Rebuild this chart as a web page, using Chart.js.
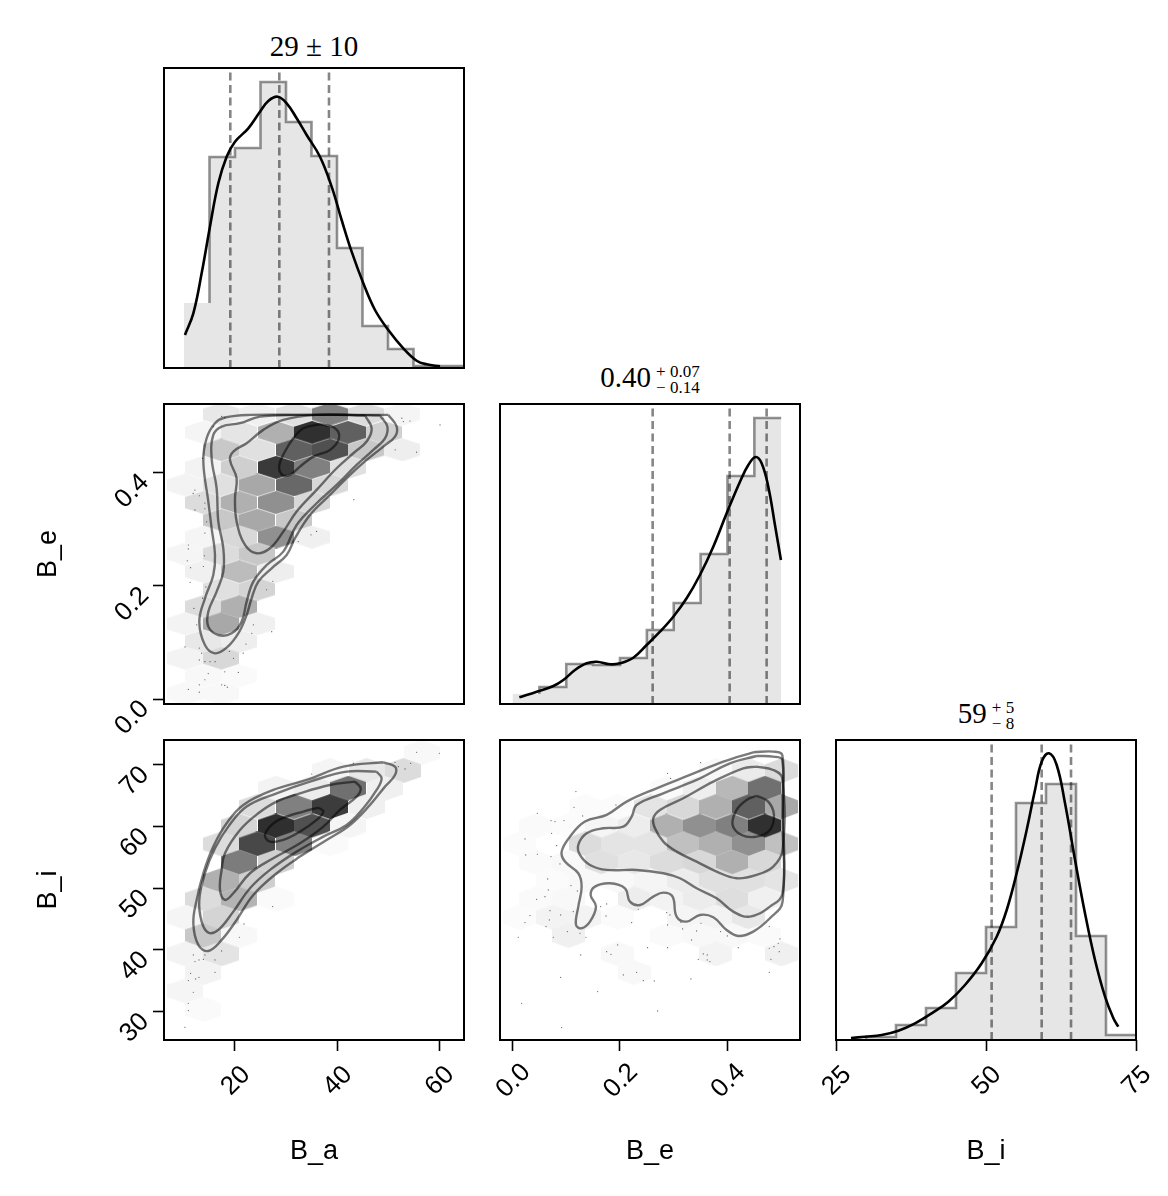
<!DOCTYPE html>
<html>
<head>
<meta charset="utf-8">
<title>Corner plot</title>
<script src="https://cdn.jsdelivr.net/npm/chart.js@4/dist/chart.umd.min.js"></script>
<style>
  html, body { margin: 0; background: #fff; }
  #page { position: relative; width: 1168px; height: 1196px; overflow: hidden; }
  canvas { position: absolute; }
  .ttl { position: absolute; transform: translateX(-50%); font-family: "Liberation Serif", serif; font-size: 29px; line-height: 32px; white-space: nowrap; color: #000; }
  .ss { display: inline-block; vertical-align: -6px; font-size: 17px; line-height: 16px; margin-left: 5px; text-align: left; }
  .ss span { display: block; }
</style>
</head>
<body>
<div id="page"></div>
<script>
// axis ranges and ticks
const rangeA = [6.08, 64.9];
const rangeE = [-0.0233, 0.535];
const rangeEy = [-0.0088, 0.521];
const rangeI = [25.4, 74.05];
const rangeIx = [25, 75];
const ticksA = [20, 40, 60];
const ticksE = [0.0, 0.2, 0.4];
const ticksI = [30, 40, 50, 60, 70];
const ticksIx = [25, 50, 75];

// 1d histograms
const edgesA = [10, 15, 20, 25, 30, 35, 40, 45, 50, 55, 60, 65];
const countsA = [65, 211, 220, 286, 246, 212, 120, 42, 19, 2, 2];
const edgesE = [0, 0.05, 0.1, 0.15, 0.2, 0.25, 0.3, 0.35, 0.4, 0.45, 0.5];
const countsE = [10, 17, 40, 39, 46, 74, 101, 150, 228, 286];
const edgesI = [25, 30, 35, 40, 45, 50, 55, 60, 65, 70, 75];
const countsI = [1, 3, 15, 32, 67, 113, 237, 256, 104, 5];

const quantA = [19.08, 28.69, 38.43];
const quantE = [0.2608, 0.4041, 0.4729];
const quantI = [50.94, 59.28, 64.17];

const kdeA = [[10.19,33],[11.83,54.7],[13.46,94.7],[15.09,141.3],[16.73,184.7],[18.36,211.3],[20,226.3],[22.61,239.7],[24.9,256.3],[26.53,267],[28.36,271.3],[30.13,264.7],[32.09,249.7],[34.05,233],[36.66,211.3],[38.95,181.3],[40.91,148],[42.87,116.3],[45.16,84.7],[47.45,58],[50.06,38],[53,19.7],[55.62,7.3],[57.58,3.7],[60.2,1.7]];
const kdeE = [[0.0127,6.7],[0.045,12.3],[0.076,18],[0.0946,24],[0.1163,34],[0.138,40.7],[0.1566,42.3],[0.1814,39.7],[0.2,40.7],[0.2248,46.3],[0.2496,59],[0.2744,72.3],[0.2992,87.3],[0.324,105.7],[0.3488,129],[0.3736,157.3],[0.3985,190.7],[0.4233,222.3],[0.4388,239],[0.4524,247],[0.4636,240.7],[0.476,217.3],[0.4884,179],[0.4995,144]];
const kdeI = [[27.5,2],[29.83,3.3],[32.61,5],[35.39,9.3],[38.17,16.7],[40.95,26.7],[43.73,38.3],[46.5,55],[49.28,76.7],[51.78,103.3],[53.45,130],[55.11,166.7],[56.78,210],[58.17,250],[59.28,278.3],[60.5,286.7],[61.78,275],[63.17,236.7],[64.84,180],[66.5,126.7],[68.17,80],[69.84,43.3],[71.23,21.7],[72.06,13.3]];

// hexbin cells: x, y, darkness (0 white .. 255 black)
const hexAE = [
  [17.32,.503,23],[24.38,.503,15],[31.57,.503,31],[38.62,.503,127],[45.68,.503,35],[52.8,.503,10],
  [13.79,.471,10],[20.85,.471,26],[28.04,.471,79],[35.1,.471,207],[42.15,.471,159],[49.21,.471,47],
  [17.32,.44,55],[24.38,.44,31],[31.57,.44,159],[38.62,.44,175],[45.68,.44,55],[52.8,.44,17],
  [13.79,.409,12],[20.85,.409,48],[28.04,.409,197],[35.1,.409,127],[42.15,.409,31],
  [10.26,.378,12],[17.32,.378,31],[24.38,.378,87],[31.57,.378,151],[38.62,.378,39],
  [13.79,.347,35],[20.85,.347,79],[28.04,.347,111],[35.1,.347,39],
  [17.32,.316,55],[24.38,.316,87],[31.57,.316,55],
  [13.79,.286,10],[20.85,.286,39],[28.04,.286,111],[35.1,.286,15],
  [10.26,.256,10],[17.32,.256,35],[24.38,.256,55],
  [13.79,.225,15],[20.85,.225,67],[28.04,.225,17],
  [17.32,.194,31],[24.38,.194,43],
  [13.79,.163,35],[20.85,.163,79],
  [10.26,.133,12],[17.32,.133,87],[24.38,.133,15],
  [13.79,.102,23],[20.85,.102,17],
  [10.26,.072,12],[17.32,.072,39],
  [13.79,.041,7],[20.85,.041,5],
  [10.26,.01,7],[17.32,.01,7]
];
const hexAI = [
  [56.6,72,7],
  [38.62,69.09,10],[45.8,69.09,23],[53,69.09,35],
  [28.04,66.22,12],[35.1,66.22,19],[42.22,66.22,143],[49.41,66.22,15],
  [24.38,63.25,35],[31.57,63.25,127],[38.62,63.25,195],[45.8,63.25,15],
  [20.85,60.11,43],[28.04,60.11,208],[35.1,60.11,175],[42.22,60.11,10],
  [17.32,57.2,35],[24.38,57.2,183],[31.57,57.2,127],[38.62,57.2,5],
  [20.85,54.22,131],[28.04,54.22,47],
  [17.32,51.25,79],[24.38,51.25,48],
  [13.79,48.27,35],[20.85,48.27,75],[28.04,48.27,5],
  [10.26,45.3,10],[17.32,45.3,43],
  [13.79,42.33,55],[20.85,42.33,7],
  [10.26,39.36,12],[17.32,39.36,27],
  [13.79,36.33,12],
  [10.26,33.35,10],
  [13.79,30.38,5]
];
const hexEI = [
  [.3786,69.09,7],[.4394,69.09,20],[.5008,69.09,35],
  [.2868,66.22,5],[.3488,66.22,17],[.409,66.22,71],[.4697,66.22,143],
  [.1349,63.25,4],[.1957,63.25,4],[.2571,63.25,27],[.3178,63.25,39],[.3786,63.25,79],[.4394,63.25,159],[.5008,63.25,87],
  [.0431,60.11,5],[.1039,60.11,4],[.1659,60.11,10],[.2267,60.11,18],[.2868,60.11,79],[.3488,60.11,111],[.409,60.11,127],[.4697,60.11,207],
  [.0127,57.2,4],[.1349,57.2,35],[.1957,57.2,27],[.2571,57.2,27],[.3178,57.2,63],[.3786,57.2,79],[.4394,57.2,111],[.5008,57.2,63],
  [.0431,54.22,5],[.1039,54.22,7],[.1659,54.22,31],[.2267,54.22,23],[.2868,54.22,35],[.3488,54.22,39],[.409,54.22,79],[.4697,54.22,39],
  [.0741,51.25,4],[.1349,51.25,7],[.1957,51.25,7],[.2571,51.25,10],[.3178,51.25,19],[.3786,51.25,31],[.4394,51.25,31],[.5008,51.25,27],
  [.0431,48.27,5],[.1039,48.27,7],[.2267,48.27,18],[.2868,48.27,12],[.3488,48.27,19],[.409,48.27,33],[.4697,48.27,15],
  [.0127,45.3,4],[.0741,45.3,12],[.1349,45.3,12],[.1957,45.3,4],[.3178,45.3,10],[.3786,45.3,12],[.4394,45.3,23],
  [.1039,42.33,15],[.2868,42.33,5],[.3488,42.33,7],[.409,42.33,7],[.4697,42.33,5],
  [.1957,39.36,7],[.3786,39.36,12],[.5008,39.36,15],
  [.2267,36.33,7]
];

// contours, outer to inner
const contAE = [
  [[50.06,.5018],[51.7,.4812],[51.37,.4635],[49.08,.4458],[45.81,.4223],[42.55,.3958],[38.62,.3604],[34.7,.3251],[31.76,.2839],[30.13,.2544],[27.19,.2309],[24.57,.2073],[23.26,.1779],[22.28,.1484],[20.65,.116],[18.36,.0907],[16.08,.0807],[14.11,.0954],[13,.1366],[14.11,.1779],[15.75,.2191],[16.08,.2544],[15.42,.3015],[14.77,.3486],[13.79,.4193],[14.44,.4605],[16.08,.4871],[18.03,.4971],[22.94,.5018],[32.74,.5018],[42.55,.5018]],
  [[48.43,.5006],[49.87,.4812],[49.41,.4605],[47.12,.4399],[43.85,.4134],[39.93,.3781],[36.01,.3457],[32.09,.3074],[29.47,.2603],[26.21,.2367],[23.59,.2073],[22.28,.172],[21.3,.1366],[19.34,.116],[16.73,.1131],[14.77,.1278],[14.77,.1543],[16.4,.1896],[17.71,.225],[17.71,.2662],[16.73,.3133],[16.4,.3722],[15.42,.4252],[15.75,.4664],[17.38,.4812],[20.98,.4871],[24.9,.4988],[32.74,.5018],[42.55,.5018]],
  [[45.49,.5006],[46.79,.4782],[45.81,.4547],[43.2,.434],[39.93,.4075],[36.01,.3693],[32.09,.331],[29.47,.2956],[26.86,.2662],[24.25,.2574],[21.96,.2721],[20.32,.3133],[20,.3545],[20.32,.3899],[19.02,.4223],[19.67,.437],[22.28,.4517],[25.55,.4753],[29.47,.4929],[36.01,.5018]],
  [[36.66,.4853],[39.6,.4782],[40.39,.4605],[38.62,.4399],[35.36,.4281],[32.74,.4105],[30.78,.3958],[29.15,.3969],[28.69,.4134],[29.8,.437],[31.43,.4605],[33.4,.4782]]
];
const contAI = [
  [[49.08,70.44],[51.37,69.73],[51.37,68.38],[49.41,66.49],[46.47,63.52],[42.55,60.27],[37.97,57.84],[32.74,55.14],[28.17,52.44],[23.59,48.92],[20.32,44.87],[17.38,41.63],[14.77,39.84],[12.81,40.82],[11.83,44.33],[12.48,48.11],[13.79,52.44],[15.75,56.76],[18.36,60.54],[21.63,63.52],[27.51,65.95],[34.05,67.57],[41.24,69.73]],
  [[47.77,68.92],[48.75,67.84],[47.77,65.95],[45.16,62.98],[41.89,60.27],[37.32,58.38],[32.09,55.95],[26.86,52.98],[22.94,50],[19.67,46.22],[16.73,43.25],[14.77,42.82],[13.46,44.6],[13,48.11],[14.11,52.44],[16.08,56.49],[18.69,60],[22.28,63.25],[28.17,65.41],[34.7,67.3],[41.89,68.92]],
  [[43.53,67.3],[44.64,66.22],[43.85,64.87],[40.58,62.71],[37.32,60],[32.74,57.3],[27.51,54.87],[22.94,52.44],[19.67,49.19],[18.03,48.11],[17.06,49.73],[17.38,52.98],[18.03,55.68],[20.98,59.46],[24.57,62.17],[28.17,64.06],[32.74,65.41],[38.62,66.76]],
  [[36.34,63.09],[37.32,62.44],[36.01,61.09],[32.74,59.19],[29.47,57.84],[26.86,57.57],[25.88,58.65],[27.51,60.54],[30.13,61.63],[33.4,62.44]]
];
const contEI = [
  [[.448,72.06],[.4852,72.17],[.502,71.63],[.5026,64.87],[.5026,47.84],[.479,45.14],[.448,42.98],[.4201,42.27],[.3984,43.25],[.3736,45.3],[.3488,45.68],[.324,44.6],[.3054,45.41],[.2979,48.65],[.2806,49.3],[.262,48.65],[.2372,47.3],[.2186,47.84],[.2093,50],[.1814,50.82],[.1534,50.27],[.1454,48.92],[.1553,47.03],[.1441,44.6],[.1286,43.52],[.1181,44.06],[.1224,47.03],[.1286,50.27],[.1224,52.44],[.0976,54.33],[.0914,55.95],[.1069,58.38],[.1348,60.82],[.1752,61.9],[.2124,64.06],[.2682,66.22],[.3302,68.38],[.3922,70.54]],
  [[.4542,71.46],[.4852,71.36],[.502,70.82],[.5026,60],[.5026,49.19],[.479,47.03],[.4418,45.41],[.4108,46.22],[.3798,48.38],[.3426,50],[.3116,51.63],[.2806,52.44],[.231,52.98],[.1752,52.98],[.1441,53.79],[.1255,55.41],[.1224,57.03],[.1379,58.92],[.169,59.73],[.2062,60],[.2217,61.63],[.231,63.52],[.2806,65.41],[.3426,67.57],[.4046,70.27]],
  [[.4542,69.73],[.4852,69.19],[.502,67.84],[.5026,56.22],[.4852,53.52],[.4542,52.17],[.417,51.63],[.3798,52.71],[.3426,54.33],[.3054,55.95],[.2806,57.57],[.2651,59.73],[.262,61.36],[.2744,62.71],[.3178,64.6],[.3736,67.3],[.4294,69.46]],
  [[.4542,64.98],[.4759,64.06],[.4865,61.9],[.479,59.46],[.4542,58.38],[.4263,58.65],[.4096,60.27],[.417,62.71],[.4356,64.33]]
];

// stray samples outside the contours
const dotsAE = [[17.4,.499],[18,.497],[15.75,.481],[12.15,.369],[11.8,.363],[13,.359],[14.1,.346],[12.15,.334],[14.1,.336],[14.45,.313],[13.65,.425],[14.1,.293],[10.85,.272],[10.85,.265],[14,.253],[10.65,.244],[11.3,.232],[13.8,.234],[11.2,.206],[14.3,.198],[13.65,.178],[11.95,.16],[12.5,.131],[23.6,.131],[27.2,.119],[23.3,.116],[22.15,.097],[10.2,.092],[13,.09],[13.45,.081],[13,.069],[14.1,.066],[15.1,.066],[16.1,.066],[19.7,.072],[21.6,.081],[18.9,.084],[18,.048],[20.65,.047],[14.75,.045],[14.1,.034],[13,.025],[10.85,.017],[13,.012],[17.4,.025],[18,.024],[18.5,.021],[52.7,.496],[54.3,.491],[53,.49],[60.2,.484],[55.6,.436],[51.4,.44],[43.3,.352],[36,.296],[34.9,.29],[32.4,.278],[27.4,.208],[26.2,.193]];
const dotsAI = [[55.62,72.06],[60.06,71.9],[51.37,70.44],[54.44,70.27],[52.02,69.73],[53.33,69.36],[43.2,70.27],[35.03,68.54],[27.38,47.03],[21.76,44.22],[20.85,42.06],[17.38,39.84],[11.83,39.19],[14.11,39.19],[16.08,38.38],[13.79,38.49],[12.94,38.38],[12.15,38.11],[11.3,36.22],[16.08,36.38],[12.94,35.57],[12.28,35.3],[10.85,35.03],[11.83,33.14],[10.85,31.36],[10.85,30.17],[10.19,27.46]];
const dotsEI = [[.118,65.68],[.1144,63.14],[.1305,61.73],[.0462,62.17],[.0716,60.98],[.079,60.82],[.0958,60.98],[.0728,58.92],[.0232,58],[.0821,56.92],[.0245,55.41],[.0462,55.52],[.0716,55.14],[.0883,53.95],[.0654,51.52],[.1088,50.44],[.0666,49.73],[.1206,49.57],[.0604,48.65],[.0449,48.22],[.1131,46.22],[.0697,46.38],[.0896,45.68],[.0685,44.87],[.0325,45.57],[.0232,44.44],[.0623,43.79],[.0108,42.06],[.0759,42.06],[.102,42.98],[.1255,42.71],[.1367,42.06],[.1752,47.46],[.1925,63.52],[.164,47.03],[.1739,45.52],[.2217,44.44],[.1268,39.19],[.1752,39.73],[.1832,39.3],[.1957,40.82],[.2062,35.95],[.231,36.38],[.2434,35.03],[.2638,34.98],[.332,35.3],[.0896,35.57],[.1584,33.25],[.017,31.36],[.27,30.11],[.0914,27.41],[.2514,40.38],[.2886,40.38],[.2886,68.65],[.2942,67.84],[.35,70.38],[.2341,46.6],[.2868,46.06],[.293,45.68],[.3134,44.49],[.2886,44.06],[.3165,43.41],[.3426,43.09],[.3507,44.33],[.3333,41.63],[.3873,42.98],[.3997,42.27],[.4201,40.38],[.3457,38.49],[.355,39.36],[.3624,39.19],[.3624,38.38],[.3674,38.11],[.4778,43.79],[.4977,41.79],[.4945,41.09],[.4865,40.54],[.4778,40.28],[.4964,39.73],[.4809,38.49],[.4778,36.38]];

const FONT = '"Liberation Sans", Arial, sans-serif';
const PANEL = 300;
const M = 4, RIGHT = 32, SIDE = 36;
const page = document.getElementById('page');

// hexagon stamp used as a point style
function hexStamp(level, w, h) {
    const c = document.createElement('canvas');
    c.width = w; c.height = h;
    const g = c.getContext('2d');
    const s = 255 - level;
    g.fillStyle = `rgb(${s},${s},${s})`;
    g.beginPath();
    g.moveTo(w / 2, 0); g.lineTo(w, h / 4); g.lineTo(w, h * 3 / 4);
    g.lineTo(w / 2, h); g.lineTo(0, h * 3 / 4); g.lineTo(0, h / 4);
    g.closePath();
    g.fill();
    return c;
}

function pts(list) { return list.map(p => ({ x: p[0], y: p[1] })); }

function histPoints(edges, counts, from) {
    const out = [];
    for (let i = from; i < counts.length; i++) out.push({ x: edges[i], y: counts[i] });
    out.push({ x: edges[counts.length], y: counts[counts.length - 1] });
    return out;
}

function diagDatasets(edges, counts, quant, kde, skip) {
    const ds = [{ data: pts(kde), showLine: true, borderColor: '#000', borderWidth: 2.6, tension: 0.4, pointRadius: 0 }];
    quant.forEach(q => ds.push({
        data: [{ x: q, y: 0 }, { x: q, y: PANEL }], showLine: true,
        borderColor: 'rgba(0,0,0,0.48)', borderWidth: 2.6, borderDash: [8, 4.5], pointRadius: 0
    }));
    const start = { x: edges[skip], y: counts[skip - 1] };
    ds.push({ data: [start].concat(histPoints(edges, counts, skip)), showLine: true, stepped: 'before', borderColor: 'rgba(0,0,0,0.42)', borderWidth: 2.6, pointRadius: 0 });
    ds.push({ data: histPoints(edges, counts, 0), showLine: true, stepped: 'before', borderWidth: 0, borderColor: 'transparent', backgroundColor: '#e6e6e6', fill: 'origin', pointRadius: 0 });
    return ds;
}

function hexDatasets(hex, conts, dots, w, h) {
    const ds = conts.map(c => ({
        data: pts(c.concat([c[0]])), showLine: true,
        borderColor: 'rgba(0,0,0,0.52)', borderWidth: 2.4, tension: 0.4, pointRadius: 0, borderJoinStyle: 'round'
    }));
    ds.push({ data: pts(dots), showLine: false, pointRadius: 0.6, pointBorderWidth: 0, pointBackgroundColor: 'rgba(0,0,0,0.65)' });
    const stamps = hex.map(c => hexStamp(c[2], w, h));
    ds.push({ data: pts(hex), showLine: false, pointRadius: w / 2, pointStyle: ctx => stamps[ctx.dataIndex] });
    return ds;
}

const framePlugin = {
    id: 'frame',
    beforeDraw(chart) {
        // matplotlib style: rotated x labels sit centred under the tick
        const s = chart.scales.x;
        if (s.options.display) {
            s.getLabelItems().forEach((it, i) => {
                it.textOffset = 0;
                it.options.textAlign = 'center';
                it.options.textBaseline = 'middle';
                it.options.translation = [s.getPixelForTick(i) + 1, s.top + 41];
            });
        }
    },
    afterDraw(chart) {
        const a = chart.chartArea, c = chart.ctx;
        c.save();
        c.strokeStyle = '#000';
        c.lineWidth = 2;
        c.strokeRect(a.left, a.top, a.right - a.left, a.bottom - a.top);
        c.restore();
    }
};

function axis(range, ticks, title, digits, size, horizontal) {
    if (!ticks) return { type: 'linear', display: false, min: range[0], max: range[1] };
    return {
        type: 'linear', min: range[0], max: range[1],
        afterBuildTicks: s => { s.ticks = ticks.map(v => ({ value: v })); },
        afterFit: s => {
            if (horizontal) s.height = size; else s.width = size;
            s.paddingLeft = s.paddingRight = s.paddingTop = s.paddingBottom = 0;
        },
        border: { display: false },
        grid: { drawOnChartArea: false, drawTicks: true, tickLength: 11, tickColor: '#000', tickWidth: 1.6 },
        ticks: {
            autoSkip: false, minRotation: 45, maxRotation: 45, padding: 8, color: '#000',
            labelOffset: horizontal ? 0 : 6,
            font: { family: FONT, size: 26 },
            callback: v => v.toFixed(digits)
        },
        title: {
            display: true, text: title, color: '#000',
            font: { family: FONT, size: 27 },
            padding: horizontal ? { top: 0, bottom: 28 } : { top: 32, bottom: 0 }
        }
    };
}

function panel(o) {
    const mL = o.yTicks ? o.px : SIDE;
    const mB = o.xTicks ? 1196 - (o.py + PANEL) : SIDE;
    const cv = document.createElement('canvas');
    cv.width = mL + PANEL + RIGHT;
    cv.height = M + PANEL + mB;
    cv.style.left = (o.px - mL) + 'px';
    cv.style.top = (o.py - M) + 'px';
    page.appendChild(cv);
    new Chart(cv, {
        type: 'scatter',
        data: { datasets: o.datasets },
        plugins: [framePlugin],
        options: {
            responsive: false, animation: false, devicePixelRatio: 1,
            events: [],
            layout: {
                autoPadding: false,
                padding: { left: o.yTicks ? 0 : SIDE, right: RIGHT, top: M, bottom: o.xTicks ? 0 : SIDE }
            },
            plugins: { legend: { display: false }, tooltip: { enabled: false } },
            scales: {
                x: axis(o.xRange, o.xTicks, o.xTitle, o.xDigits, mB, true),
                y: axis(o.yRange, o.yTicks, o.yTitle, o.yDigits, mL, false)
            }
        }
    });
}

function title(cx, top, main, up, down) {
    const d = document.createElement('div');
    d.className = 'ttl';
    d.style.left = cx + 'px';
    d.style.top = top + 'px';
    d.textContent = main;
    if (up) {
        const s = document.createElement('span');
        s.className = 'ss';
        [up, down].forEach(t => { const b = document.createElement('span'); b.textContent = t; s.appendChild(b); });
        d.appendChild(s);
    }
    page.appendChild(d);
}

const histY = [0, 300];

panel({ px: 164, py: 68, xRange: rangeA, yRange: histY, datasets: diagDatasets(edgesA, countsA, quantA, kdeA, 1) });
panel({ px: 500, py: 404, xRange: rangeE, yRange: histY, datasets: diagDatasets(edgesE, countsE, quantE, kdeE, 1) });
panel({ px: 836, py: 740, xRange: rangeIx, yRange: histY, xTicks: ticksIx, xTitle: 'B_i', xDigits: 0, datasets: diagDatasets(edgesI, countsI, quantI, kdeI, 1) });

panel({ px: 164, py: 404, xRange: rangeA, yRange: rangeEy, yTicks: ticksE, yTitle: 'B_e', yDigits: 1, datasets: hexDatasets(hexAE, contAE, dotsAE, 36, 23) });
panel({ px: 164, py: 740, xRange: rangeA, yRange: rangeI, xTicks: ticksA, xTitle: 'B_a', xDigits: 0, yTicks: ticksI, yTitle: 'B_i', yDigits: 0, datasets: hexDatasets(hexAI, contAI, dotsAI, 36, 25) });
panel({ px: 500, py: 740, xRange: rangeE, yRange: rangeI, xTicks: ticksE, xTitle: 'B_e', xDigits: 1, datasets: hexDatasets(hexEI, contEI, dotsEI, 33, 25) });

title(314, 30, '29 ± 10');
title(650, 361, '0.40', '+ 0.07', '− 0.14');
title(986, 697, '59', '+ 5', '− 8');
</script>
</body>
</html>
